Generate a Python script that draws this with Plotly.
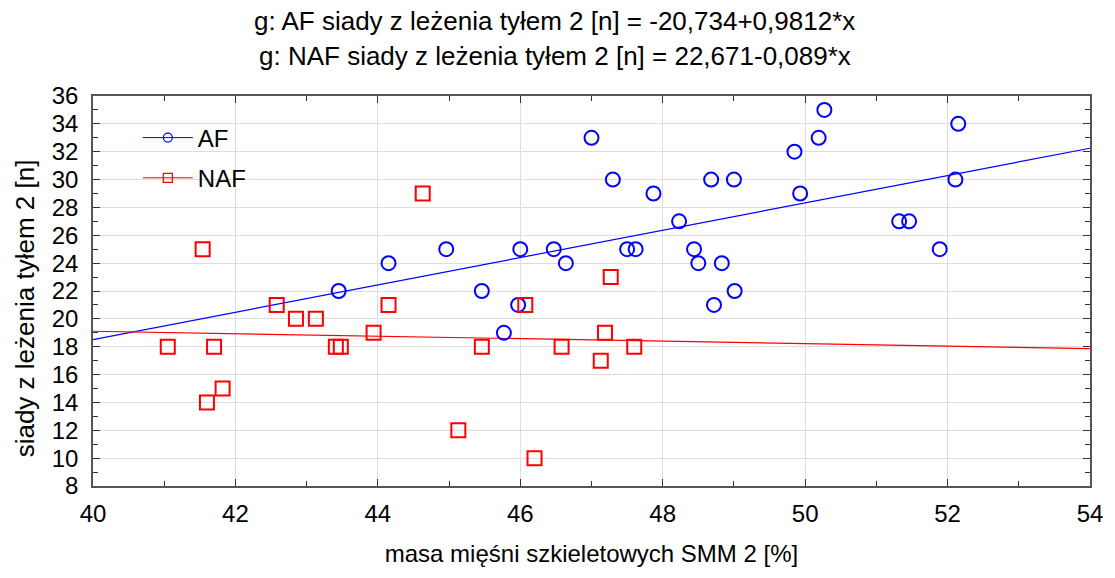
import plotly.graph_objects as go

# AF group (blue circles)
af_x = [43.45, 44.15, 44.96, 45.46, 45.77, 45.97, 46.0, 46.47, 46.64, 47.0, 47.3, 47.5, 47.62,
        47.87, 48.23, 48.44, 48.5, 48.68, 48.72, 48.83, 49.0, 49.01, 49.85, 49.93, 50.19, 50.27,
        51.32, 51.46, 51.89, 52.11, 52.15]
af_y = [22, 24, 25, 22, 19, 21, 25, 25, 24, 33, 30, 25, 25,
        29, 27, 25, 24, 30, 21, 24, 30, 22, 32, 29, 33, 35,
        27, 27, 25, 30, 34]

# NAF group (red squares)
naf_x = [41.05, 41.54, 41.6, 41.7, 41.82, 42.58, 42.85, 43.13, 43.41, 43.48, 43.94, 44.15,
         44.63, 45.13, 45.46, 46.07, 46.2, 46.58, 47.13, 47.19, 47.27, 47.6]
naf_y = [18, 25, 14, 18, 15, 21, 20, 20, 18, 18, 19, 21,
         29, 12, 18, 21, 10, 18, 17, 19, 23, 18]

# regression coefficients (from title)
af_a, af_b = -20.734, 0.9812
naf_a, naf_b = 22.671, -0.089
x_range = [40, 54]
y_range = [8, 36]
x_ticks = [40, 42, 44, 46, 48, 50, 52, 54]
y_ticks = list(range(8, 37, 2))

titles = ["g: AF siady z leżenia tyłem 2 [n] = -20,734+0,9812*x",
          "g: NAF siady z leżenia tyłem 2 [n] = 22,671-0,089*x"]
x_title = "masa mięśni szkieletowych SMM 2 [%]"
y_title = "siady z leżenia tyłem 2 [n]"

BLUE = "#0000ff"
RED = "#ff0000"

fig = go.Figure()
fig.add_trace(go.Scatter(x=x_range, y=[af_a + af_b * v for v in x_range], mode="lines",
                         line=dict(color=BLUE, width=1.2), showlegend=False, hoverinfo="skip"))
fig.add_trace(go.Scatter(x=x_range, y=[naf_a + naf_b * v for v in x_range], mode="lines",
                         line=dict(color=RED, width=1.2), showlegend=False, hoverinfo="skip"))
fig.add_trace(go.Scatter(x=af_x, y=af_y, mode="markers", name="AF", showlegend=False,
                         marker=dict(symbol="circle-open", size=14, color=BLUE, line=dict(width=2, color=BLUE))))
fig.add_trace(go.Scatter(x=naf_x, y=naf_y, mode="markers", name="NAF", showlegend=False,
                         marker=dict(symbol="square-open", size=14, color=RED, line=dict(width=2, color=RED))))
# legend entries
fig.add_trace(go.Scatter(x=[None], y=[None], mode="lines+markers", name="AF", legendgroup="a",
                         line=dict(color=BLUE, width=1),
                         marker=dict(symbol="circle-open", size=9, color=BLUE, line=dict(width=1.2, color=BLUE))))
fig.add_trace(go.Scatter(x=[None], y=[None], mode="lines+markers", name="NAF", legendgroup="b",
                         line=dict(color=RED, width=1),
                         marker=dict(symbol="square-open", size=9, color=RED, line=dict(width=1.2, color=RED))))

FONT = "Liberation Sans, Arial, sans-serif"
FS = 24
axis_common = dict(showline=True, linecolor="#555555", linewidth=1.5, mirror="allticks",
                   ticks="inside", ticklen=7, tickwidth=1, tickcolor="#333333",
                   showgrid=True, gridcolor="#dddddd", gridwidth=1, zeroline=False,
                   tickfont=dict(size=FS, color="black", family=FONT),
                   minor=dict(ticks="inside", ticklen=5, tickcolor="#333333", dtick=1, showgrid=False))

fig.update_xaxes(range=x_range, tickvals=x_ticks,
                 title=dict(text=x_title, font=dict(size=FS, family=FONT, color="black"), standoff=20),
                 ticklabelstandoff=5, **axis_common)
fig.update_yaxes(range=y_range, tickvals=y_ticks, ticklabelstandoff=8, **axis_common)

# y-axis title
fig.add_annotation(text=y_title, xref="paper", yref="paper", x=(25 - 93) / 1002, y=(486 - 308) / 390,
                   xanchor="center", yanchor="middle", textangle=-90, showarrow=False,
                   font=dict(size=26, family=FONT, color="black"))

# two-line title
for txt, py in zip(titles, [21, 56]):
    fig.add_annotation(text=txt, xref="paper", yref="paper", x=(557 - 93) / 1002, y=(486 - py) / 390,
                       xanchor="center", yanchor="middle", showarrow=False,
                       font=dict(size=26, family=FONT, color="black"))

fig.update_layout(
    width=1115, height=578,
    margin=dict(l=93, r=20, t=96, b=92),
    plot_bgcolor="white", paper_bgcolor="white",
    font=dict(family=FONT, color="black"),
    legend=dict(x=0.045, y=0.95, xanchor="left", yanchor="top", bgcolor="rgba(0,0,0,0)",
                font=dict(size=FS, family=FONT, color="black"), tracegroupgap=6, itemwidth=50),
)

fig.write_html("out.html", config={"displayModeBar": False},
               post_script="document.body.style.margin='0';document.body.style.overflow='hidden';")
